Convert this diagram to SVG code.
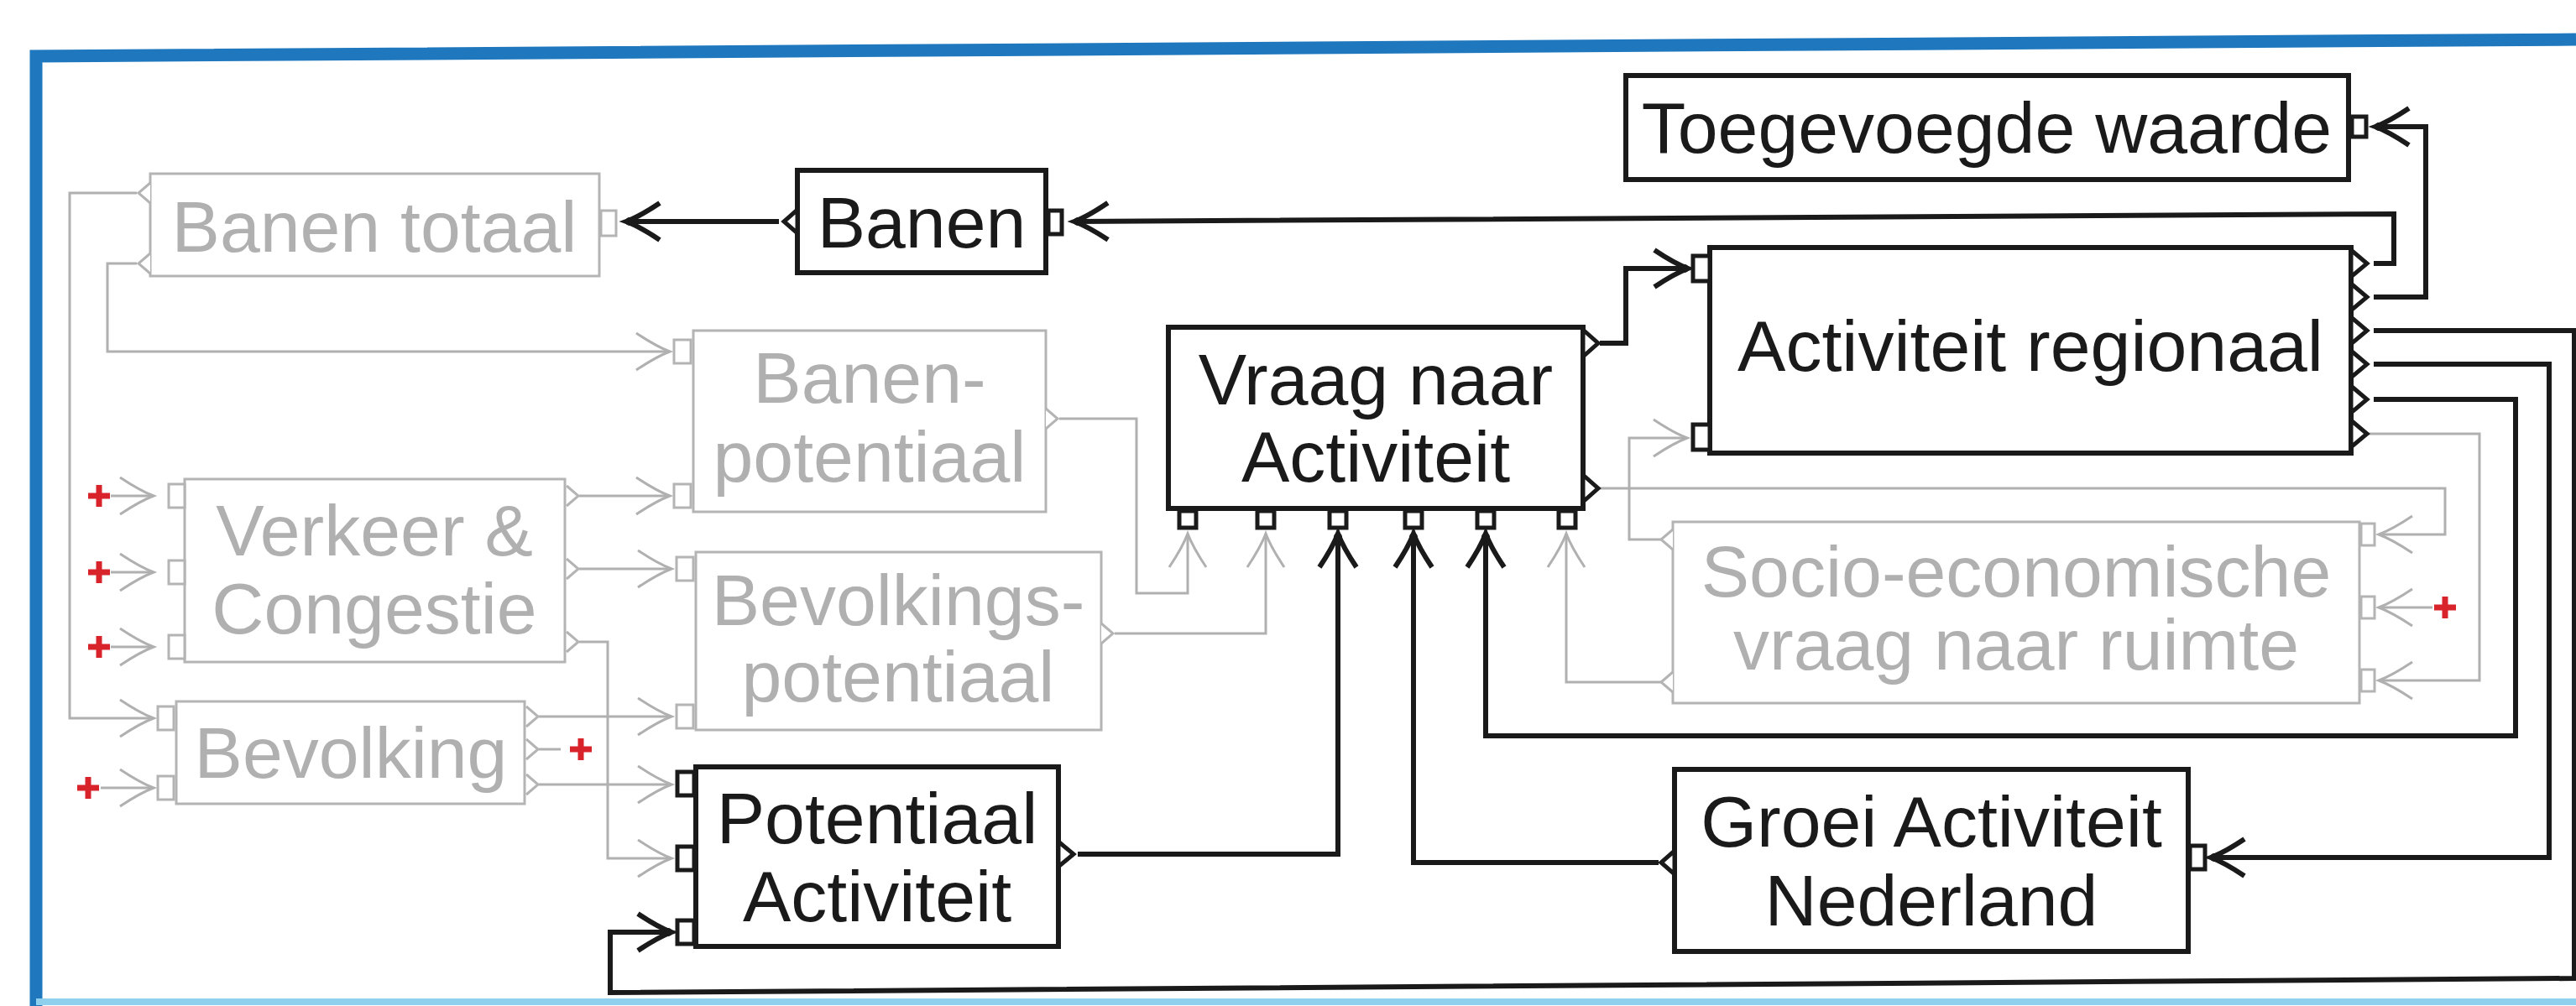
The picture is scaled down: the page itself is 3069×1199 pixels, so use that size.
<svg xmlns="http://www.w3.org/2000/svg" width="3069" height="1199" viewBox="0 0 3069 1199">
<style>
.bk{fill:#fff;stroke:#1a1a1a;stroke-width:6}
.gy{fill:#fff;stroke:#b4b4b4;stroke-width:3}
.bp{fill:#fff;stroke:#1a1a1a;stroke-width:5}
.gp{fill:#fff;stroke:#b4b4b4;stroke-width:3}
.bt{font-family:"Liberation Sans",Arial,sans-serif;font-size:86px;fill:#1a1a1a;text-anchor:middle}
.gt{font-family:"Liberation Sans",Arial,sans-serif;font-size:86px;fill:#b0b0b0;text-anchor:middle}
.bc{fill:none;stroke:#1a1a1a;stroke-width:6;marker-end:url(#ab)}
.gc{fill:none;stroke:#b0b0b0;stroke-width:3;marker-end:url(#ag)}
.gcn{fill:none;stroke:#b0b0b0;stroke-width:3}
.plus{fill:none;stroke:#d8232a;stroke-width:7}
</style>
<defs>
<marker id="ab" markerUnits="userSpaceOnUse" orient="auto" overflow="visible" markerWidth="10" markerHeight="10" refX="0" refY="0">
<path d="M-40,-22 Q-16,-6 0,0 Q-16,6 -40,22" fill="none" stroke="#1a1a1a" stroke-width="6"/>
<circle cx="-4" cy="0" r="5" fill="#1a1a1a"/>
</marker>
<marker id="ag" markerUnits="userSpaceOnUse" orient="auto" overflow="visible" markerWidth="10" markerHeight="10" refX="0" refY="0">
<path d="M-40,-22 Q-16,-6 0,0 Q-16,6 -40,22" fill="none" stroke="#b0b0b0" stroke-width="3"/>
</marker>
<path id="plus" class="plus" d="M-13,0 H13 M0,-13 V13"/>
</defs>
<rect width="3069" height="1199" fill="#fff"/>
<g id="frame">
<path d="M43,1199 V67 L3069,47" fill="none" stroke="#1f78be" stroke-width="15"/>
<line x1="43" y1="1194" x2="3069" y2="1194" stroke="#8fd0ef" stroke-width="8"/>
</g>
<g id="connectors">
<path class="bc" d="M2828,314 H2852 V255 L1280,264"/>
<path class="bc" d="M928,264 H746"/>
<path class="bc" d="M1906,409 H1937 V320 H2011"/>
<path class="bc" d="M2828,354 H2890 V151 H2830"/>
<path class="bc" d="M2828,394 H3067 V1166 L727,1183 V1111 H800"/>
<path class="bc" d="M2828,434 H3037 V1022 H2634"/>
<path class="bc" d="M2828,476 H2997 V877 H1770 V636"/>
<path class="bc" d="M1284,1018 H1594 V636"/>
<path class="bc" d="M1976,1028 H1684 V636"/>
<path class="gc" d="M163,230 H83 V856 H183"/>
<path class="gc" d="M163,314 H128 V419 H798"/>
<path class="gc" d="M690,591 H798"/>
<path class="gc" d="M690,678 H800"/>
<path class="gc" d="M690,765 H724 V1023 H800"/>
<path class="gc" d="M642,854 H800"/>
<path class="gc" d="M642,935 H800"/>
<path class="gcn" d="M642,893 H668"/>
<path class="gc" d="M1262,499 H1354 V707 H1415 V636"/>
<path class="gc" d="M1328,755 H1508 V636"/>
<path class="gc" d="M1906,582 H2913 V637 H2834"/>
<path class="gc" d="M2820,517 H2954 V811 H2834"/>
<path class="gc" d="M2898,724 H2834"/>
<path class="gc" d="M1979,643 H1941 V522 H2010"/>
<path class="gc" d="M1979,813 H1866 V636"/>
<path class="gc" d="M132,591 H183"/>
<path class="gc" d="M132,682 H183"/>
<path class="gc" d="M132,771 H183"/>
<path class="gc" d="M120,939 H183"/>
<use href="#plus" x="118" y="591"/>
<use href="#plus" x="118" y="682"/>
<use href="#plus" x="118" y="771"/>
<use href="#plus" x="105" y="939"/>
<use href="#plus" x="692" y="893"/>
<use href="#plus" x="2913" y="724"/>
</g>
<g id="banen-totaal">
<rect class="gy" x="179" y="207" width="535" height="122"/>
<polyline class="gp" fill="none" points="179,218 165,230 179,242"/>
<polyline class="gp" fill="none" points="179,302 165,314 179,326"/>
<rect class="gp" x="716" y="251" width="18" height="30"/>
<text class="gt" x="446" y="300">Banen totaal</text>
</g>
<g id="banen">
<rect class="bk" x="950" y="203" width="296" height="122"/>
<polygon class="bp" points="950,250 934,264 950,278"/>
<rect class="bp" x="1249" y="251" width="16" height="28"/>
<text class="bt" x="1098" y="295">Banen</text>
</g>
<g id="toegevoegde-waarde">
<rect class="bk" x="1937" y="90" width="861" height="124"/>
<rect class="bp" x="2802" y="139" width="17" height="24"/>
<text class="bt" x="2367" y="182">Toegevoegde waarde</text>
</g>
<g id="activiteit-regionaal">
<rect class="bk" x="2037" y="295" width="764" height="245"/>
<rect class="bp" x="2017" y="305" width="20" height="30"/>
<rect class="bp" x="2017" y="506" width="20" height="30"/>
<polygon class="bp" points="2801,298 2820,314 2801,330"/>
<polygon class="bp" points="2801,338 2820,354 2801,370"/>
<polygon class="bp" points="2801,378 2820,394 2801,410"/>
<polygon class="bp" points="2801,418 2820,434 2801,450"/>
<polygon class="bp" points="2801,460 2820,476 2801,492"/>
<polygon class="bp" points="2801,501 2820,517 2801,533"/>
<text class="bt" x="2419" y="442">Activiteit regionaal</text>
</g>
<g id="vraag-naar-activiteit">
<rect class="bk" x="1392" y="390" width="494" height="216"/>
<polygon class="bp" points="1886,393 1904,409 1886,425"/>
<polygon class="bp" points="1886,566 1904,582 1886,598"/>
<rect class="bp" x="1405" y="609" width="20" height="20"/>
<rect class="bp" x="1498" y="609" width="20" height="20"/>
<rect class="bp" x="1584" y="609" width="20" height="20"/>
<rect class="bp" x="1674" y="609" width="20" height="20"/>
<rect class="bp" x="1760" y="609" width="20" height="20"/>
<rect class="bp" x="1857" y="609" width="20" height="20"/>
<text class="bt" x="1639" y="482">Vraag naar</text>
<text class="bt" x="1639" y="574">Activiteit</text>
</g>
<g id="banen-potentiaal">
<rect class="gy" x="826" y="394" width="420" height="216"/>
<rect class="gp" x="803" y="405" width="20" height="28"/>
<rect class="gp" x="803" y="577" width="20" height="28"/>
<polyline class="gp" fill="none" points="1246,487 1260,499 1246,511"/>
<text class="gt" x="1036" y="480">Banen-</text>
<text class="gt" x="1036" y="574">potentiaal</text>
</g>
<g id="bevolkingspotentiaal">
<rect class="gy" x="829" y="658" width="483" height="212"/>
<rect class="gp" x="806" y="664" width="20" height="28"/>
<rect class="gp" x="806" y="840" width="20" height="28"/>
<polyline class="gp" fill="none" points="1312,743 1326,755 1312,767"/>
<text class="gt" x="1070" y="745">Bevolkings-</text>
<text class="gt" x="1070" y="836">potentiaal</text>
</g>
<g id="verkeer-congestie">
<rect class="gy" x="220" y="571" width="453" height="218"/>
<rect class="gp" x="201" y="577" width="19" height="28"/>
<rect class="gp" x="201" y="668" width="19" height="28"/>
<rect class="gp" x="201" y="757" width="19" height="28"/>
<polyline class="gp" fill="none" points="675,579 689,591 675,603"/>
<polyline class="gp" fill="none" points="675,666 689,678 675,690"/>
<polyline class="gp" fill="none" points="675,753 689,765 675,777"/>
<text class="gt" x="446" y="662">Verkeer &amp;</text>
<text class="gt" x="446" y="755">Congestie</text>
</g>
<g id="bevolking">
<rect class="gy" x="210" y="836" width="415" height="122"/>
<rect class="gp" x="188" y="842" width="19" height="28"/>
<rect class="gp" x="188" y="925" width="19" height="28"/>
<polyline class="gp" fill="none" points="627,842 641,854 627,866"/>
<polyline class="gp" fill="none" points="627,881 641,893 627,905"/>
<polyline class="gp" fill="none" points="627,923 641,935 627,947"/>
<text class="gt" x="418" y="927">Bevolking</text>
</g>
<g id="potentiaal-activiteit">
<rect class="bk" x="829" y="914" width="432" height="214"/>
<rect class="bp" x="807" y="920" width="20" height="28"/>
<rect class="bp" x="807" y="1009" width="20" height="28"/>
<rect class="bp" x="807" y="1097" width="20" height="28"/>
<polygon class="bp" points="1261,1003 1279,1018 1261,1033"/>
<text class="bt" x="1045" y="1005">Potentiaal</text>
<text class="bt" x="1045" y="1098">Activiteit</text>
</g>
<g id="groei-activiteit-nederland">
<rect class="bk" x="1995" y="917" width="612" height="217"/>
<polygon class="bp" points="1995,1014 1979,1028 1995,1042"/>
<rect class="bp" x="2609" y="1008" width="18" height="28"/>
<text class="bt" x="2301" y="1009">Groei Activiteit</text>
<text class="bt" x="2301" y="1103">Nederland</text>
</g>
<g id="socio-economische-vraag">
<rect class="gy" x="1993" y="622" width="818" height="216"/>
<polyline class="gp" fill="none" points="1993,631 1979,643 1993,655"/>
<polyline class="gp" fill="none" points="1993,801 1979,813 1993,825"/>
<rect class="gp" x="2813" y="624" width="16" height="26"/>
<rect class="gp" x="2813" y="711" width="16" height="26"/>
<rect class="gp" x="2813" y="798" width="16" height="26"/>
<text class="gt" x="2402" y="711">Socio-economische</text>
<text class="gt" x="2402" y="798">vraag naar ruimte</text>
</g>
</svg>
